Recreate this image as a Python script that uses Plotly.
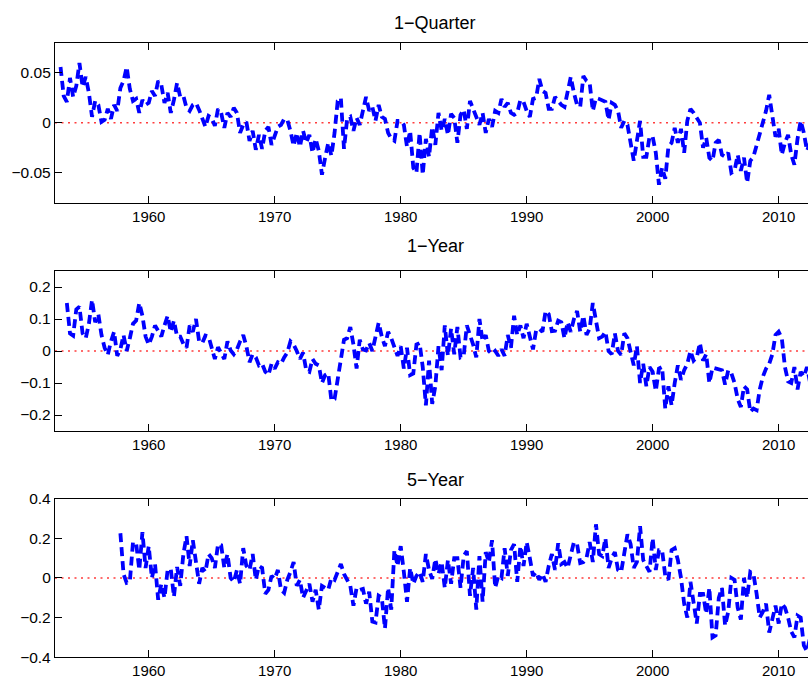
import plotly.graph_objects as go

# ---------------- data (quarterly) ----------------
titles = ["1\u2212Quarter", "1\u2212Year", "5\u2212Year"]

q_start = 1953.0
q_values = [
    0.056, 0.027, 0.021, 0.045,   # 1953
    0.026, 0.037, 0.060, 0.036,   # 1954
    0.046, 0.030, 0.006, 0.022,   # 1955
    0.018, 0.001, 0.003, 0.014,   # 1956
    0.004, 0.018, 0.012, 0.035,   # 1957
    0.042, 0.056, 0.034, 0.022,   # 1958
    0.024, 0.010, 0.023, 0.018,   # 1959
    0.020, 0.032, 0.027, 0.042,   # 1960
    0.038, 0.020, 0.030, 0.010,   # 1961
    0.023, 0.040, 0.026, 0.027,   # 1962
    0.015, 0.012, 0.018, 0.020,   # 1963
    0.013, 0.003, -0.004, 0.007,  # 1964
    0.005, -0.003, 0.014, 0.010,  # 1965
    -0.005, 0.010, 0.006, 0.015,  # 1966
    0.010, -0.010, -0.002, 0.001,  # 1967
    -0.018, -0.008, -0.027, -0.012,  # 1968
    -0.026, -0.008, -0.004, -0.022,  # 1969
    -0.014, -0.004, -0.002, 0.004,  # 1970
    0.003, -0.008, -0.023, -0.010,  # 1971
    -0.024, -0.008, -0.020, -0.012,  # 1972
    -0.030, -0.016, -0.028, -0.052,  # 1973
    -0.035, -0.020, -0.033, -0.010,  # 1974
    0.022, 0.025, -0.026, 0.004,  # 1975
    0.006, -0.008, 0.005, -0.002,  # 1976
    0.012, 0.026, 0.012, 0.016,  # 1977
    0.002, 0.018, 0.006, 0.004,  # 1978
    -0.010, -0.016, -0.018, 0.002,  # 1979
    0.002, -0.002, -0.024, -0.008,  # 1980
    -0.045, -0.050, -0.010, -0.052,  # 1981
    -0.016, -0.034, -0.004, -0.022,  # 1982
    0.010, -0.008, 0.004, -0.012,  # 1983
    0.009, 0.005, -0.020, 0.008,  # 1984
    0.013, -0.006, 0.022, 0.014,  # 1985
    0.006, -0.002, 0.010, -0.010,  # 1986
    0.004, -0.004, 0.012, 0.010,  # 1987
    0.024, 0.016, 0.020, 0.010,  # 1988
    0.008, 0.010, 0.023, 0.021,  # 1989
    0.012, 0.006, 0.024, 0.025,  # 1990
    0.044, 0.032, 0.030, 0.014,  # 1991
    0.014, 0.026, 0.022, 0.018,  # 1992
    0.016, 0.030, 0.046, 0.030,  # 1993
    0.018, 0.016, 0.047, 0.042,  # 1994
    0.040, 0.012, 0.025, 0.024,  # 1995
    0.022, 0.021, 0.003, 0.020,  # 1996
    0.018, 0.012, -0.005, 0.002,  # 1997
    -0.002, -0.020, -0.038, -0.018,  # 1998
    0.002, -0.034, -0.034, -0.014,  # 1999
    -0.014, -0.030, -0.062, -0.045,  # 2000
    -0.056, -0.024, -0.020, -0.005,  # 2001
    -0.020, -0.006, -0.030, 0.002,  # 2002
    0.014, 0.010, 0.004, 0.000,  # 2003
    -0.025, -0.015, -0.035, -0.038,  # 2004
    -0.020, -0.017, -0.032, -0.034,  # 2005
    -0.030, -0.050, -0.048, -0.032,  # 2006
    -0.048, -0.035, -0.060, -0.038,  # 2007
    -0.034, -0.022, -0.010, 0.002,  # 2008
    0.012, 0.028, 0.008, -0.014,  # 2009
    -0.006, -0.032, -0.020, -0.012,  # 2010
    -0.032, -0.042, -0.016, 0.002,  # 2011
    -0.010, -0.028, -0.020, -0.015,  # 2012
]

y1_start = 1953.5
y1_values = [
    0.150, 0.055,                     # 1953 Q3-Q4
    0.048, 0.130, 0.138, 0.055,       # 1954
    0.040, 0.085, 0.160, 0.090,       # 1955
    0.115, 0.050, 0.010, -0.012,      # 1956
    0.030, 0.060, -0.015, 0.005,      # 1957
    0.050, 0.000, 0.040, 0.085,       # 1958
    0.095, 0.150, 0.110, 0.045,       # 1959
    0.020, 0.045, 0.080, 0.060,       # 1960
    0.045, 0.080, 0.110, 0.060,       # 1961
    0.095, 0.045, 0.045, 0.022,       # 1962
    0.010, 0.080, 0.060, 0.100,       # 1963
    0.030, 0.025, 0.048, 0.045,       # 1964
    0.005, -0.025, 0.012, -0.010,     # 1965
    -0.025, 0.030, 0.002, -0.010,     # 1966
    0.005, 0.030, 0.050, 0.015,       # 1967
    -0.035, -0.010, -0.020, -0.045,   # 1968
    -0.040, -0.065, -0.075, -0.040,   # 1969
    -0.055, -0.035, -0.040, -0.020,   # 1970
    -0.005, 0.030, 0.020, 0.000,      # 1971
    -0.025, -0.005, -0.060, -0.065,   # 1972
    -0.025, -0.040, -0.045, -0.100,   # 1973
    -0.075, -0.070, -0.155, -0.150,   # 1974
    -0.085, -0.030, 0.035, 0.040,     # 1975
    0.075, 0.020, -0.055, 0.035,      # 1976
    0.005, 0.002, 0.025, 0.000,       # 1977
    0.050, 0.088, 0.045, 0.015,       # 1978
    0.060, 0.040, 0.012, -0.015,      # 1979
    0.015, -0.055, 0.010, -0.075,     # 1980
    -0.070, 0.020, 0.025, -0.050,     # 1981
    -0.170, -0.030, -0.165, -0.110,   # 1982
    0.015, -0.060, 0.080, -0.015,     # 1983
    0.070, -0.010, 0.075, -0.020,     # 1984
    -0.015, 0.080, 0.050, 0.020,      # 1985
    -0.020, 0.100, 0.030, 0.050,      # 1986
    0.000, -0.010, 0.000, -0.015,     # 1987
    0.005, -0.015, 0.050, 0.010,      # 1988
    0.110, 0.050, 0.080, 0.040,       # 1989
    0.085, 0.040, 0.005, 0.065,       # 1990
    0.070, 0.060, 0.125, 0.115,       # 1991
    0.062, 0.063, 0.095, 0.090,       # 1992
    0.040, 0.090, 0.060, 0.100,       # 1993
    0.125, 0.060, 0.110, 0.050,       # 1994
    0.070, 0.150, 0.095, 0.040,       # 1995
    0.045, 0.060, 0.000, -0.010,      # 1996
    0.055, 0.000, -0.012, 0.055,      # 1997
    0.040, -0.005, -0.045, 0.015,     # 1998
    -0.100, -0.040, -0.110, -0.050,   # 1999
    -0.065, -0.125, -0.055, -0.050,   # 2000
    -0.180, -0.110, -0.170, -0.100,   # 2001
    -0.045, -0.090, -0.060, -0.040,   # 2002
    0.000, -0.030, -0.020, 0.025,     # 2003
    -0.030, -0.010, -0.100, -0.052,   # 2004
    -0.054, -0.058, -0.060, -0.105,   # 2005
    -0.060, -0.070, -0.100, -0.150,   # 2006
    -0.175, -0.110, -0.120, -0.190,   # 2007
    -0.180, -0.185, -0.120, -0.080,   # 2008
    -0.055, -0.040, -0.010, 0.050,    # 2009
    0.060, 0.040, -0.050, -0.095,     # 2010
    -0.100, -0.050, -0.120, -0.065,   # 2011
    -0.080, -0.050, -0.100, -0.120,   # 2012
]

y5_start = 1957.75
y5_values = [
    0.225,                            # 1957 Q4
    0.020, -0.025, -0.020, 0.180,     # 1958
    0.175, 0.040, 0.230, 0.050,       # 1959
    0.160, 0.000, 0.070, -0.110,      # 1960
    -0.030, -0.100, 0.040, 0.045,     # 1961
    -0.095, 0.055, -0.040, 0.120,     # 1962
    0.210, 0.060, 0.190, 0.080,       # 1963
    -0.030, 0.050, 0.030, 0.120,      # 1964
    0.100, 0.050, 0.170, 0.165,       # 1965
    0.050, 0.120, 0.000, -0.020,      # 1966
    0.040, -0.030, 0.150, 0.060,      # 1967
    0.040, 0.120, -0.010, 0.060,      # 1968
    0.050, -0.080, -0.060, 0.010,     # 1969
    -0.005, 0.040, -0.060, -0.075,    # 1970
    -0.010, 0.030, 0.080, -0.040,     # 1971
    -0.010, -0.100, -0.060, -0.030,   # 1972
    -0.120, -0.060, -0.160, -0.040,   # 1973
    -0.050, -0.060, 0.000, -0.010,    # 1974
    0.030, 0.070, 0.020, -0.010,      # 1975
    -0.040, -0.140, -0.050, -0.060,   # 1976
    -0.055, -0.130, -0.070, -0.220,   # 1977
    -0.225, -0.090, -0.100, -0.255,   # 1978
    -0.050, -0.160, 0.140, 0.060,     # 1979
    0.160, 0.030, -0.120, 0.050,      # 1980
    -0.030, 0.010, 0.030, -0.020,     # 1981
    0.120, 0.040, -0.005, 0.095,      # 1982
    0.020, 0.080, -0.050, 0.090,      # 1983
    -0.030, 0.100, 0.100, -0.050,     # 1984
    0.110, 0.135, -0.090, 0.050,      # 1985
    -0.160, 0.110, -0.120, 0.130,     # 1986
    0.080, 0.190, -0.050, 0.010,      # 1987
    0.000, 0.150, 0.010, 0.140,       # 1988
    0.170, -0.020, 0.160, 0.060,      # 1989
    0.180, 0.100, 0.010, 0.030,       # 1990
    -0.010, 0.020, -0.020, 0.060,     # 1991
    0.120, 0.040, 0.175, 0.070,       # 1992
    0.080, 0.050, 0.120, 0.180,       # 1993
    0.170, 0.075, 0.080, 0.100,       # 1994
    0.180, 0.080, 0.270, 0.120,       # 1995
    0.110, 0.200, 0.050, 0.100,       # 1996
    0.130, 0.040, 0.030, 0.140,       # 1997
    0.220, 0.170, 0.050, 0.080,       # 1998
    0.260, 0.090, 0.060, 0.030,       # 1999
    0.200, 0.040, 0.140, 0.140,       # 2000
    0.010, -0.010, 0.140, 0.150,      # 2001
    0.090, 0.000, -0.130, -0.200,     # 2002
    -0.020, -0.140, -0.230, -0.080,   # 2003
    -0.080, -0.180, -0.050, -0.300,   # 2004
    -0.290, -0.100, -0.050, -0.240,   # 2005
    -0.170, 0.000, -0.010, -0.150,    # 2006
    -0.210, 0.000, -0.100, 0.030,     # 2007
    0.020, -0.080, -0.200, -0.170,    # 2008
    -0.130, -0.275, -0.200, -0.140,   # 2009
    -0.230, -0.130, -0.150, -0.200,   # 2010
    -0.270, -0.300, -0.190, -0.200,   # 2011
    -0.340, -0.370, -0.300, -0.250,   # 2012
]

x_tick_vals = [1960, 1970, 1980, 1990, 2000, 2010]
x_tick_text = ["1960", "1970", "1980", "1990", "2000", "2010"]
y_ticks = [
    ([-0.05, 0, 0.05], ["\u22120.05", "0", "0.05"]),
    ([-0.2, -0.1, 0, 0.1, 0.2], ["\u22120.2", "\u22120.1", "0", "0.1", "0.2"]),
    ([-0.4, -0.2, 0, 0.2, 0.4], ["\u22120.4", "\u22120.2", "0", "0.2", "0.4"]),
]
y_ranges = [[-0.08, 0.08], [-0.25, 0.25], [-0.4, 0.4]]
x_range = [1952.56, 2012.33]

# ---------------- figure ----------------
W, H = 808, 679
FONT = "Liberation Sans, Arial, Helvetica, sans-serif"

series = [(q_start, q_values), (y1_start, y1_values), (y5_start, y5_values)]
# pixel boxes (top, bottom) of each panel
boxes = [(43, 202.7), (271, 431), (498.5, 657.3)]
title_y = [23, 246, 480]

fig = go.Figure()
layout = dict(
    width=W, height=H,
    margin=dict(l=55, r=0, t=0, b=0, autoexpand=False),
    paper_bgcolor="white", plot_bgcolor="white",
    showlegend=False,
    font=dict(family=FONT, size=15, color="black"),
)

annotations = []
shapes = []
for i, (start, vals) in enumerate(series):
    n = i + 1
    sfx = str(n) if n > 1 else ""
    xs = [start + 0.25 * k for k in range(len(vals))]
    fig.add_trace(go.Scatter(
        x=xs, y=vals, mode="lines",
        line=dict(color="rgb(0,0,255)", width=3.8, dash="9px,5px"),
        xaxis="x" + sfx, yaxis="y" + sfx,
        hoverinfo="skip",
    ))
    top, bot = boxes[i]
    layout["xaxis" + sfx] = dict(
        domain=[0, 1], range=x_range, anchor="y" + sfx,
        tickmode="array", tickvals=x_tick_vals, ticktext=x_tick_text,
        ticks="inside", ticklen=7, tickwidth=1, tickcolor="black",
        showline=True, linecolor="black", linewidth=1.3, mirror="ticks",
        showgrid=False, zeroline=False,
        tickfont=dict(family=FONT, size=15, color="black"),
    )
    layout["yaxis" + sfx] = dict(
        domain=[1 - bot / H, 1 - top / H], range=y_ranges[i],
        anchor="x" + sfx,
        tickmode="array", tickvals=y_ticks[i][0], ticktext=y_ticks[i][1],
        ticks="inside", ticklen=7, tickwidth=1, tickcolor="black",
        showline=True, linecolor="black", linewidth=1.3, mirror=False,
        showgrid=False, zeroline=False,
        tickfont=dict(family=FONT, size=15.5, color="black"),
    )
    shapes.append(dict(
        type="line", xref="x" + sfx + " domain", yref="y" + sfx,
        x0=0, x1=1, y0=0, y1=0, layer="below",
        line=dict(color="rgb(255,60,60)", width=1.5, dash="2px,4.5px"),
    ))
    annotations.append(dict(
        text=titles[i], xref="paper", yref="paper",
        x=(435 - 55) / (W - 55), y=1 - title_y[i] / H,
        xanchor="center", yanchor="middle", showarrow=False,
        font=dict(family=FONT, size=18, color="black"),
    ))

layout["shapes"] = shapes
layout["annotations"] = annotations
fig.update_layout(**layout)
fig.write_html("out.html")
